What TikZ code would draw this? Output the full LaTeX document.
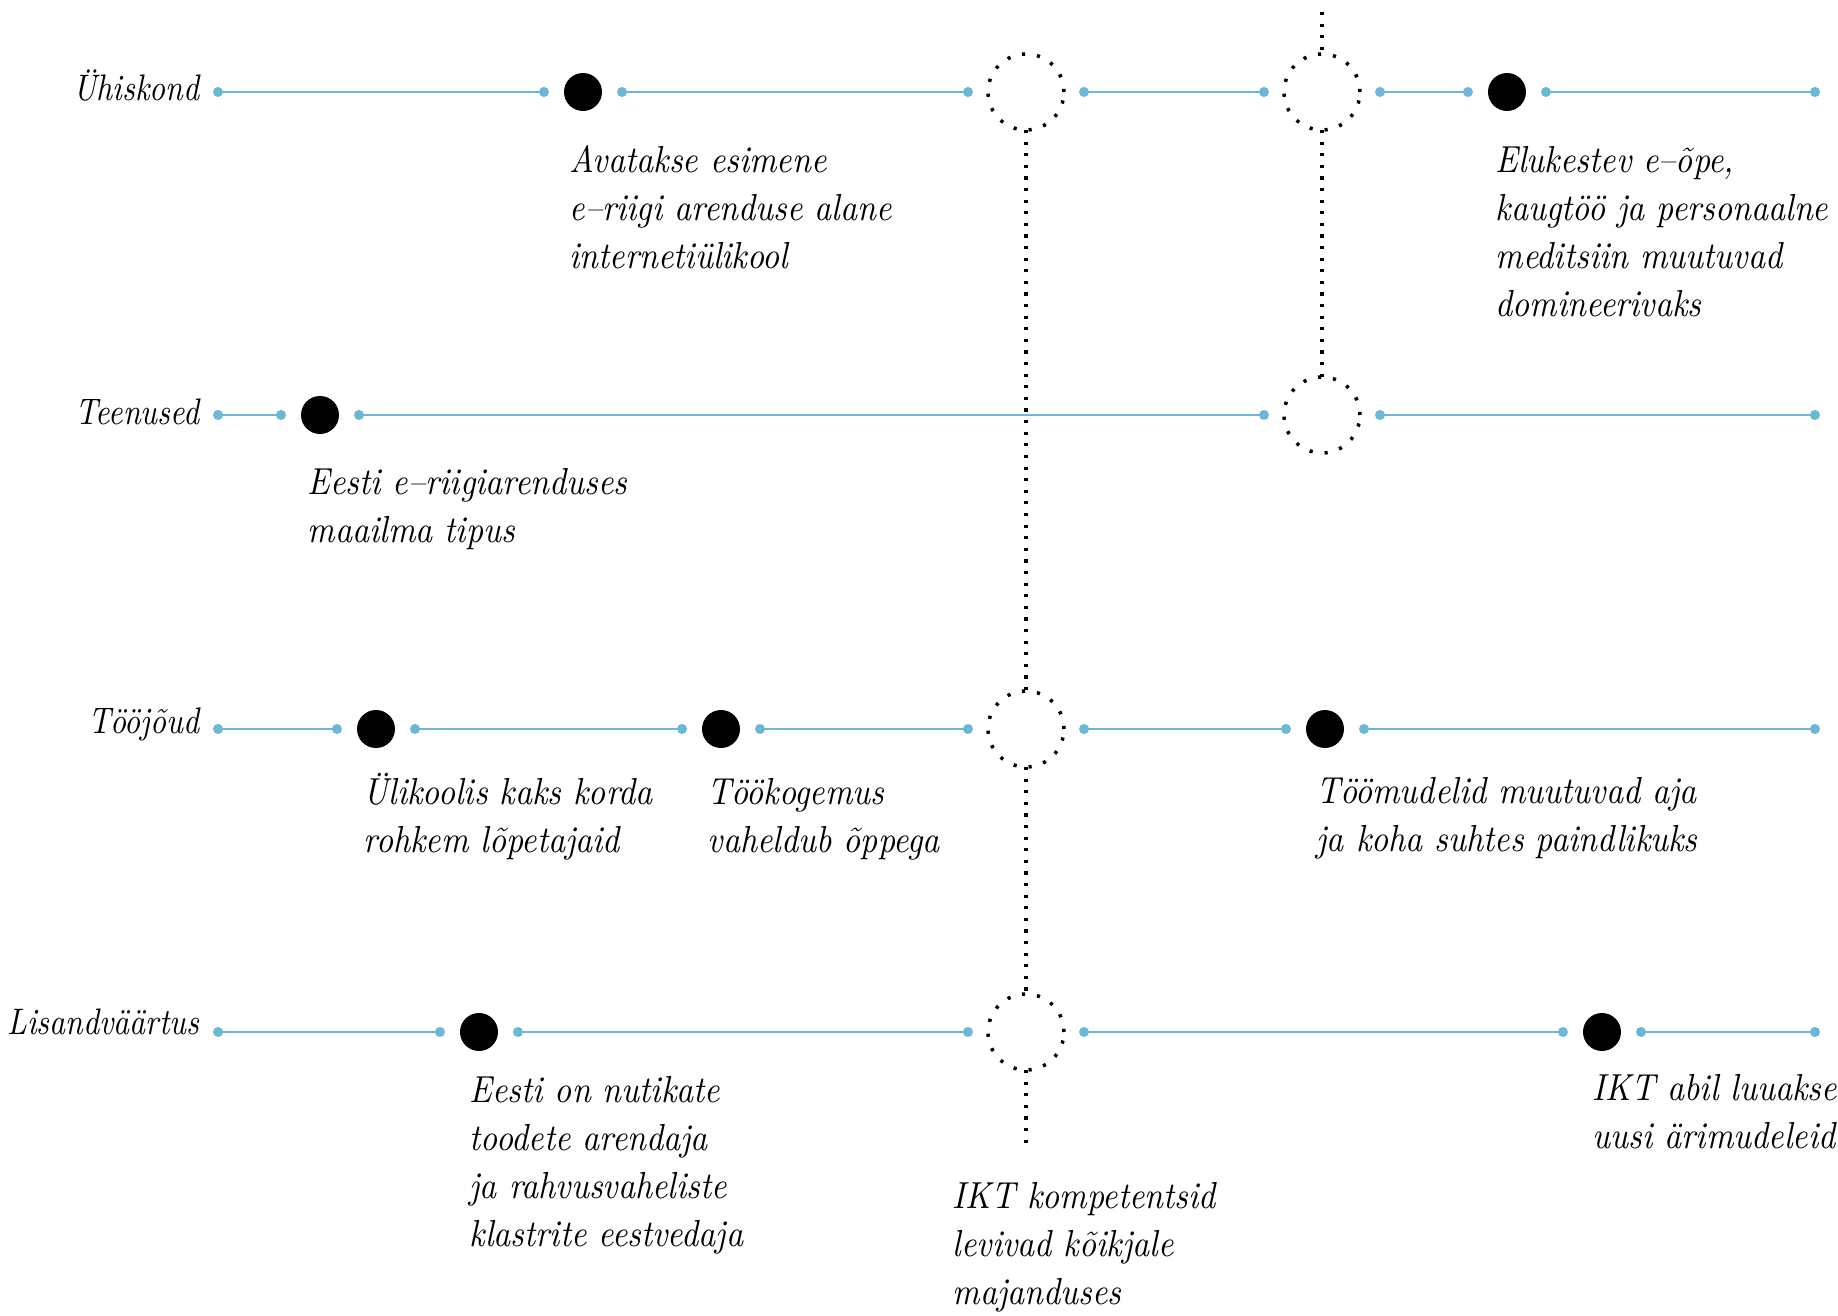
\documentclass[tikz,border=0pt]{standalone}
\usepackage{fontspec}
\setmainfont{Latin Modern Roman}[FakeStretch=0.85]
\newfontfamily\notefont{Latin Modern Roman}[FakeStretch=0.89]
\usepackage{tikz}
\usetikzlibrary{arrows.meta,positioning}
\definecolor{lineblue}{RGB}{108,182,214}

\begin{document}
\begin{tikzpicture}[x=0.01cm, y=-0.01cm]
		\tikzstyle{Event}	= [circle, fill=black, minimum size=10.8pt, inner sep=0pt, outer sep=0pt]
		\tikzstyle{Open}	= [circle, draw, line width=1pt, dash pattern=on 0.9pt off 3.4pt, minimum size=21.6pt, inner sep=0pt, outer sep=0pt]
		\tikzstyle{Seg}		= [draw=lineblue, line width=0.8pt, {Circle[length=2.8pt]}-{Circle[length=2.8pt]}, shorten <=4.3pt, shorten >=4.3pt]
		\tikzstyle{Link}	= [line width=1pt, dash pattern=on 0.9pt off 2.4pt]
		\tikzstyle{Row}		= [anchor=base east, inner sep=0pt, font=\itshape\fontsize{10.5}{13.66}\selectfont]
		\tikzstyle{Note}	= [anchor=base west, inner sep=0pt, align=left, font=\notefont\itshape\fontsize{10.7}{13.66}\selectfont]

		\path[use as bounding box] (0,0) rectangle (1838,1316);

		% rows
		\node (r1) at (200, 101) [Row] {Ühiskond};
		\node (r2) at (200, 425) [Row] {Teenused};
		\node (r3) at (200, 734) [Row] {Tööjõud};
		\node (r4) at (200, 1035) [Row] {Lisandväärtus};

		\coordinate (u0) at (198, 92);
		\node (u1) at (583, 92) [Event]{};
		\node (u2) at (1026, 92) [Open]{};
		\node (u3) at (1322, 92) [Open]{};
		\node (u4) at (1507, 92) [Event]{};
		\coordinate (u5) at (1835, 92);

		\coordinate (t0) at (198, 415);
		\node (t1) at (320, 415) [Event]{};
		\node (t2) at (1322, 415) [Open]{};
		\coordinate (t3) at (1835, 415);

		\coordinate (j0) at (198, 729);
		\node (j1) at (376, 729) [Event]{};
		\node (j2) at (721, 729) [Event]{};
		\node (j3) at (1026, 729) [Open]{};
		\node (j4) at (1325, 729) [Event]{};
		\coordinate (j5) at (1835, 729);

		\coordinate (l0) at (198, 1032);
		\node (l1) at (479, 1032) [Event]{};
		\node (l2) at (1026, 1032) [Open]{};
		\node (l3) at (1602, 1032) [Event]{};
		\coordinate (l4) at (1835, 1032);

		\coordinate (kTop) at (1322, 12);
		\coordinate (kEnd) at (1026, 1143);

		\draw [Seg] (u0) to (u1);
		\draw [Seg] (u1) to (u2);
		\draw [Seg] (u2) to (u3);
		\draw [Seg] (u3) to (u4);
		\draw [Seg] (u4) to (u5);
		\draw [Seg] (t0) to (t1);
		\draw [Seg] (t1) to (t2);
		\draw [Seg] (t2) to (t3);
		\draw [Seg] (j0) to (j1);
		\draw [Seg] (j1) to (j2);
		\draw [Seg] (j2) to (j3);
		\draw [Seg] (j3) to (j4);
		\draw [Seg] (j4) to (j5);
		\draw [Seg] (l0) to (l1);
		\draw [Seg] (l1) to (l2);
		\draw [Seg] (l2) to (l3);
		\draw [Seg] (l3) to (l4);

		\draw [Link] (kTop) to (u3.north);
		\draw [Link] (u3.south) to (t2.north);
		\draw [Link] (u2.south) to (j3.north);
		\draw [Link] (j3.south) to (l2.north);
		\draw [Link] (l2.south) to (kEnd);

		% events (placed at the baseline of the last line)
		\node (n1) at (569, 269) [Note] {Avatakse esimene\\e–riigi arenduse alane\\internetiülikool};
		\node (n2) at (1495, 317) [Note] {Elukestev e–õpe,\\kaugtöö ja personaalne\\meditsiin muutuvad\\domineerivaks};
		\node (n3) at (307, 543) [Note] {Eesti e–riigiarenduses\\maailma tipus};
		\node (n4) at (363, 853) [Note] {Ülikoolis kaks korda\\rohkem lõpetajaid};
		\node (n5) at (707, 853) [Note] {Töökogemus\\vaheldub õppega};
		\node (n6) at (1316, 852) [Note] {Töömudelid muutuvad aja\\ja koha suhtes paindlikuks};
		\node (n7) at (469, 1247) [Note] {Eesti on nutikate\\toodete arendaja\\ja rahvusvaheliste\\klastrite eestvedaja};
		\node (n8) at (952, 1305) [Note] {IKT kompetentsid\\levivad kõikjale\\majanduses};
		\node (n9) at (1592, 1149) [Note] {IKT abil luuakse\\uusi ärimudeleid};
	\end{tikzpicture}
\end{document}
